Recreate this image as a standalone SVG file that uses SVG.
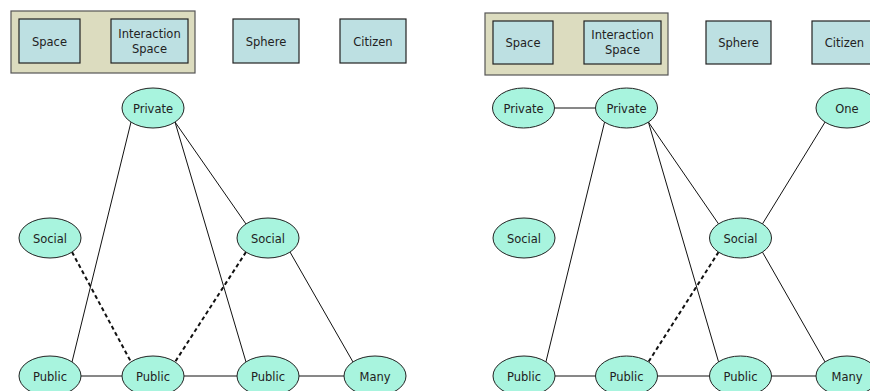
<svg xmlns="http://www.w3.org/2000/svg" width="870" height="391" viewBox="0 0 870 391">
<style>
.bg{fill:#ffffff}
.grp{fill:#dcdcbf;stroke:#555555;stroke-width:1.2}
.box{fill:#bde0e2;stroke:#222222;stroke-width:1.2}
.ell{fill:#a8f4de;stroke:#222222;stroke-width:1}
.t{font-family:"DejaVu Sans",Verdana,sans-serif;font-size:11.5px;fill:#222222;text-anchor:middle}
.ln{stroke:#111111;stroke-width:1;fill:none}
.dash{stroke:#111111;stroke-width:2;stroke-dasharray:4 3;fill:none}
</style>
<rect class="bg" x="0" y="0" width="870" height="391"/>
<g id="connectors">
<line class="ln" x1="131" y1="122" x2="72" y2="362"/>
<line class="ln" x1="175" y1="122" x2="246" y2="362"/>
<line class="ln" x1="175" y1="122" x2="246" y2="224"/>
<line class="ln" x1="290" y1="252" x2="353" y2="362"/>
<line class="ln" x1="81" y1="376" x2="122" y2="376"/>
<line class="ln" x1="184" y1="376" x2="237" y2="376"/>
<line class="ln" x1="299" y1="376" x2="344" y2="376"/>
<line class="dash" x1="72" y1="252" x2="131" y2="362"/>
<line class="dash" x1="246" y1="252" x2="175" y2="362"/>
<line class="ln" x1="554.5" y1="108" x2="595.5" y2="108"/>
<line class="ln" x1="604.6" y1="122" x2="545.9" y2="362"/>
<line class="ln" x1="648.4" y1="122" x2="718.6" y2="362"/>
<line class="ln" x1="648.4" y1="122" x2="718.6" y2="224"/>
<line class="ln" x1="825.1" y1="122" x2="762.4" y2="224"/>
<line class="ln" x1="762.4" y1="252" x2="825.1" y2="362"/>
<line class="ln" x1="555" y1="376" x2="595.5" y2="376"/>
<line class="ln" x1="657.5" y1="376" x2="709.5" y2="376"/>
<line class="ln" x1="771.5" y1="376" x2="816" y2="376"/>
<line class="dash" x1="718.6" y1="252" x2="648.4" y2="362"/>
</g>
<g id="left-group"><rect class="grp" x="11" y="11" width="184" height="62"/></g>
<g id="left-space"><rect class="box" x="19" y="19" width="61" height="44"/><text class="t" x="49.5" y="45.5">Space</text></g>
<g id="left-interaction"><rect class="box" x="111" y="19" width="77" height="44"/><text class="t" x="149.5" y="37.5">Interaction</text><text class="t" x="149.5" y="52.5">Space</text></g>
<g id="left-sphere"><rect class="box" x="233" y="19" width="66" height="44"/><text class="t" x="266" y="45.5">Sphere</text></g>
<g id="left-citizen"><rect class="box" x="340" y="19" width="66" height="44"/><text class="t" x="373" y="45.5">Citizen</text></g>
<g id="left-private"><ellipse class="ell" cx="153" cy="108" rx="31" ry="20"/><text class="t" x="153" y="112.5">Private</text></g>
<g id="left-social1"><ellipse class="ell" cx="50" cy="238" rx="31" ry="20"/><text class="t" x="50" y="242.5">Social</text></g>
<g id="left-social2"><ellipse class="ell" cx="268" cy="238" rx="31" ry="20"/><text class="t" x="268" y="242.5">Social</text></g>
<g id="left-public1"><ellipse class="ell" cx="50" cy="376" rx="31" ry="20"/><text class="t" x="50" y="380.5">Public</text></g>
<g id="left-public2"><ellipse class="ell" cx="153" cy="376" rx="31" ry="20"/><text class="t" x="153" y="380.5">Public</text></g>
<g id="left-public3"><ellipse class="ell" cx="268" cy="376" rx="31" ry="20"/><text class="t" x="268" y="380.5">Public</text></g>
<g id="left-many"><ellipse class="ell" cx="375" cy="376" rx="31" ry="20"/><text class="t" x="375" y="380.5">Many</text></g>
<g id="right-group"><rect class="grp" x="485" y="13" width="183" height="62"/></g>
<g id="right-space"><rect class="box" x="493" y="21" width="60" height="43"/><text class="t" x="523" y="47">Space</text></g>
<g id="right-interaction"><rect class="box" x="584" y="21" width="77" height="43"/><text class="t" x="622.5" y="39">Interaction</text><text class="t" x="622.5" y="54">Space</text></g>
<g id="right-sphere"><rect class="box" x="706" y="21" width="65" height="43"/><text class="t" x="738.5" y="47">Sphere</text></g>
<g id="right-citizen"><rect class="box" x="812" y="21" width="65" height="43"/><text class="t" x="844.5" y="47">Citizen</text></g>
<g id="right-private1"><ellipse class="ell" cx="523.5" cy="108" rx="31" ry="20"/><text class="t" x="523.5" y="112.5">Private</text></g>
<g id="right-private2"><ellipse class="ell" cx="626.5" cy="108" rx="31" ry="20"/><text class="t" x="626.5" y="112.5">Private</text></g>
<g id="right-one"><ellipse class="ell" cx="847" cy="108" rx="31" ry="20"/><text class="t" x="847" y="112.5">One</text></g>
<g id="right-social1"><ellipse class="ell" cx="524" cy="238" rx="31" ry="20"/><text class="t" x="524" y="242.5">Social</text></g>
<g id="right-social2"><ellipse class="ell" cx="740.5" cy="238" rx="31" ry="20"/><text class="t" x="740.5" y="242.5">Social</text></g>
<g id="right-public1"><ellipse class="ell" cx="524" cy="376" rx="31" ry="20"/><text class="t" x="524" y="380.5">Public</text></g>
<g id="right-public2"><ellipse class="ell" cx="626.5" cy="376" rx="31" ry="20"/><text class="t" x="626.5" y="380.5">Public</text></g>
<g id="right-public3"><ellipse class="ell" cx="740.5" cy="376" rx="31" ry="20"/><text class="t" x="740.5" y="380.5">Public</text></g>
<g id="right-many"><ellipse class="ell" cx="847" cy="376" rx="31" ry="20"/><text class="t" x="847" y="380.5">Many</text></g>
</svg>
